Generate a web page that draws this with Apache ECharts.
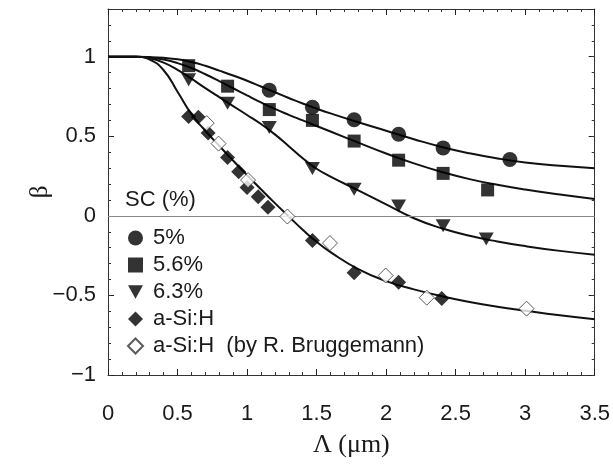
<!DOCTYPE html>
<html>
<head>
<meta charset="utf-8">
<title>beta vs Lambda</title>
<script src="https://cdn.jsdelivr.net/npm/echarts@6.0.0/dist/echarts.min.js"></script>
<style>
  html, body { margin: 0; padding: 0; background: #fff; }
  #chart { width: 613px; height: 472px; }
</style>
</head>
<body>
<div id="chart"></div>
<script>
  const sc5X = [1.16, 1.47, 1.77, 2.09, 2.41, 2.89];
  const sc5Y = [0.79, 0.683, 0.604, 0.513, 0.427, 0.354];

  const sc56X = [0.58, 0.86, 1.16, 1.47, 1.77, 2.09, 2.41, 2.73];
  const sc56Y = [0.944, 0.815, 0.668, 0.6, 0.47, 0.35, 0.267, 0.163];

  const sc63X = [0.58, 0.86, 1.16, 1.47, 1.77, 2.09, 2.41, 2.72];
  const sc63Y = [0.855, 0.708, 0.556, 0.298, 0.167, 0.0625, -0.0625, -0.146];

  const asiX = [0.58, 0.65, 0.72, 0.86, 0.94, 1.0, 1.08, 1.15, 1.47, 1.77, 2.09, 2.4];
  const asiY = [0.625, 0.62, 0.52, 0.367, 0.277, 0.179, 0.12, 0.054, -0.154, -0.358, -0.417, -0.52];

  const brugX = [0.71, 0.795, 1.007, 1.29, 1.596, 1.997, 2.292, 3.01];
  const brugY = [0.583, 0.454, 0.225, -0.004, -0.171, -0.375, -0.514, -0.583];

  // fitted curves, sampled from the figure
  const fitX = [0, 0.2, 0.3, 0.4, 0.5, 0.6, 0.7, 0.8, 0.9, 1.0, 1.1, 1.2, 1.3, 1.4, 1.5, 1.6, 1.8, 2.0, 2.2, 2.4, 2.6, 2.8, 3.0, 3.25, 3.5];
  const fit5 = [1, 1, 0.998, 0.993, 0.984, 0.967, 0.943, 0.913, 0.882, 0.849, 0.813, 0.777, 0.741, 0.706, 0.674, 0.644, 0.588, 0.535, 0.482, 0.433, 0.393, 0.361, 0.336, 0.315, 0.3];
  const fit56 = [1, 1, 0.995, 0.982, 0.96, 0.929, 0.89, 0.847, 0.802, 0.757, 0.713, 0.672, 0.635, 0.6, 0.565, 0.53, 0.46, 0.392, 0.33, 0.276, 0.231, 0.195, 0.165, 0.134, 0.106];
  const fit63 = [1, 1, 0.99, 0.963, 0.918, 0.862, 0.803, 0.746, 0.69, 0.634, 0.577, 0.512, 0.438, 0.362, 0.296, 0.247, 0.16, 0.072, -0.015, -0.078, -0.125, -0.161, -0.19, -0.22, -0.244];
  const fitAsi = [1, 1, 0.982, 0.915, 0.78, 0.64, 0.535, 0.44, 0.347, 0.256, 0.167, 0.08, -0.004, -0.087, -0.163, -0.228, -0.335, -0.41, -0.462, -0.505, -0.541, -0.571, -0.596, -0.625, -0.65];

  const legendNames = ['5%', '5.6%', '6.3%', 'a-Si:H', 'a-Si:H  (by R. Bruggemann)'];

  const zip = (xs, ys) => xs.map((x, i) => [x, ys[i]]);
  const sans = 'Liberation Sans';
  const serif = 'Liberation Serif';
  const ink = '#1a1a1a';
  const downTriangle = 'path://M0,0L10,0L5,9Z';

  const frame = { show: true, onZero: false, lineStyle: { color: '#333', width: 1 } };
  const majorTick = { show: true, inside: true, length: 6, lineStyle: { color: '#222', width: 1 } };
  const minorTickStyle = { show: true, inside: true, length: 3, lineStyle: { color: '#333', width: 1 } };

  function xAx(pos, withLabels) {
    return {
      type: 'value', position: pos, min: 0, max: 3.5, interval: 0.5,
      axisLine: frame,
      axisTick: majorTick,
      minorTick: { show: true, splitNumber: 5, length: 3, lineStyle: { color: '#333', width: 1 } },
      splitLine: { show: false },
      minorSplitLine: { show: false },
      axisLabel: { show: withLabels, fontSize: 22, fontFamily: sans, color: ink, margin: 28 },
      name: withLabels ? 'Λ (μm)' : '',
      nameLocation: 'middle',
      nameGap: 57,
      nameMoveOverlap: false,
      nameTextStyle: { fontFamily: serif, fontSize: 26, color: ink }
    };
  }

  function yMajor(pos, withLabels) {
    return {
      type: 'value', position: pos, min: -1, max: 1.3, interval: 0.5,
      axisLine: frame,
      axisTick: majorTick,
      splitLine: { show: false },
      axisLabel: {
        show: withLabels, showMaxLabel: false, fontSize: 22, fontFamily: sans, color: ink, margin: 12,
        formatter: v => String(v).replace('-', '\u2212')
      },
      name: withLabels ? 'β' : '',
      nameLocation: 'middle',
      nameRotate: 90,
      nameGap: 55,
      nameMoveOverlap: false,
      nameTextStyle: { fontFamily: serif, fontSize: 25, color: ink }
    };
  }

  function yMinor(pos) {
    return {
      type: 'value', position: pos, min: -1, max: 1.3, interval: 0.1,
      axisLine: { show: false, onZero: false },
      axisTick: minorTickStyle,
      splitLine: { show: false },
      axisLabel: { show: false }
    };
  }

  function fitLine(ys) {
    return {
      type: 'line', data: zip(fitX, ys), showSymbol: false, symbol: 'none',
      smooth: 0.5,
      lineStyle: { color: '#111', width: 2 }, z: 2, silent: true
    };
  }

  function points(name, xs, ys, symbol, size, style) {
    return {
      name: name, type: 'scatter', data: zip(xs, ys),
      symbol: symbol, symbolSize: size, itemStyle: style, z: 5
    };
  }

  const chart = echarts.init(document.getElementById('chart'));
  chart.setOption({
    animation: false,
    grid: { left: 108, right: 10, top: 9, bottom: 97 },
    title: {
      text: 'SC (%)', left: 125, top: 189, padding: 0,
      textStyle: { fontSize: 22, fontWeight: 'normal', fontFamily: sans, color: ink }
    },
    legend: {
      orient: 'vertical', left: 127, top: 227, padding: 0, itemGap: 5,
      itemWidth: 15, itemHeight: 15,
      textStyle: { fontSize: 22, fontFamily: sans, color: ink, padding: [0, 0, 0, 5] },
      data: legendNames
    },
    xAxis: [xAx('bottom', true), xAx('top', false)],
    yAxis: [yMajor('left', true), yMinor('left'), yMajor('right', false), yMinor('right')],
    series: [
      Object.assign(fitLine(fit5), {
        markLine: {
          silent: true, symbol: ['none', 'none'], label: { show: false },
          lineStyle: { color: '#888', width: 1, type: 'solid' },
          data: [{ yAxis: 0 }]
        }
      }),
      fitLine(fit56),
      fitLine(fit63),
      fitLine(fitAsi),
      points(legendNames[0], sc5X, sc5Y, 'circle', 15, { color: '#000' }),
      points(legendNames[1], sc56X, sc56Y, 'rect', 13, { color: '#000' }),
      points(legendNames[2], sc63X, sc63Y, downTriangle, [15, 13], { color: '#000' }),
      points(legendNames[3], asiX, asiY, 'diamond', 15, { color: '#000' }),
      points(legendNames[4], brugX, brugY, 'diamond', 15, { color: '#fff', borderColor: '#333', borderWidth: 1 })
    ]
  });
</script>
</body>
</html>
